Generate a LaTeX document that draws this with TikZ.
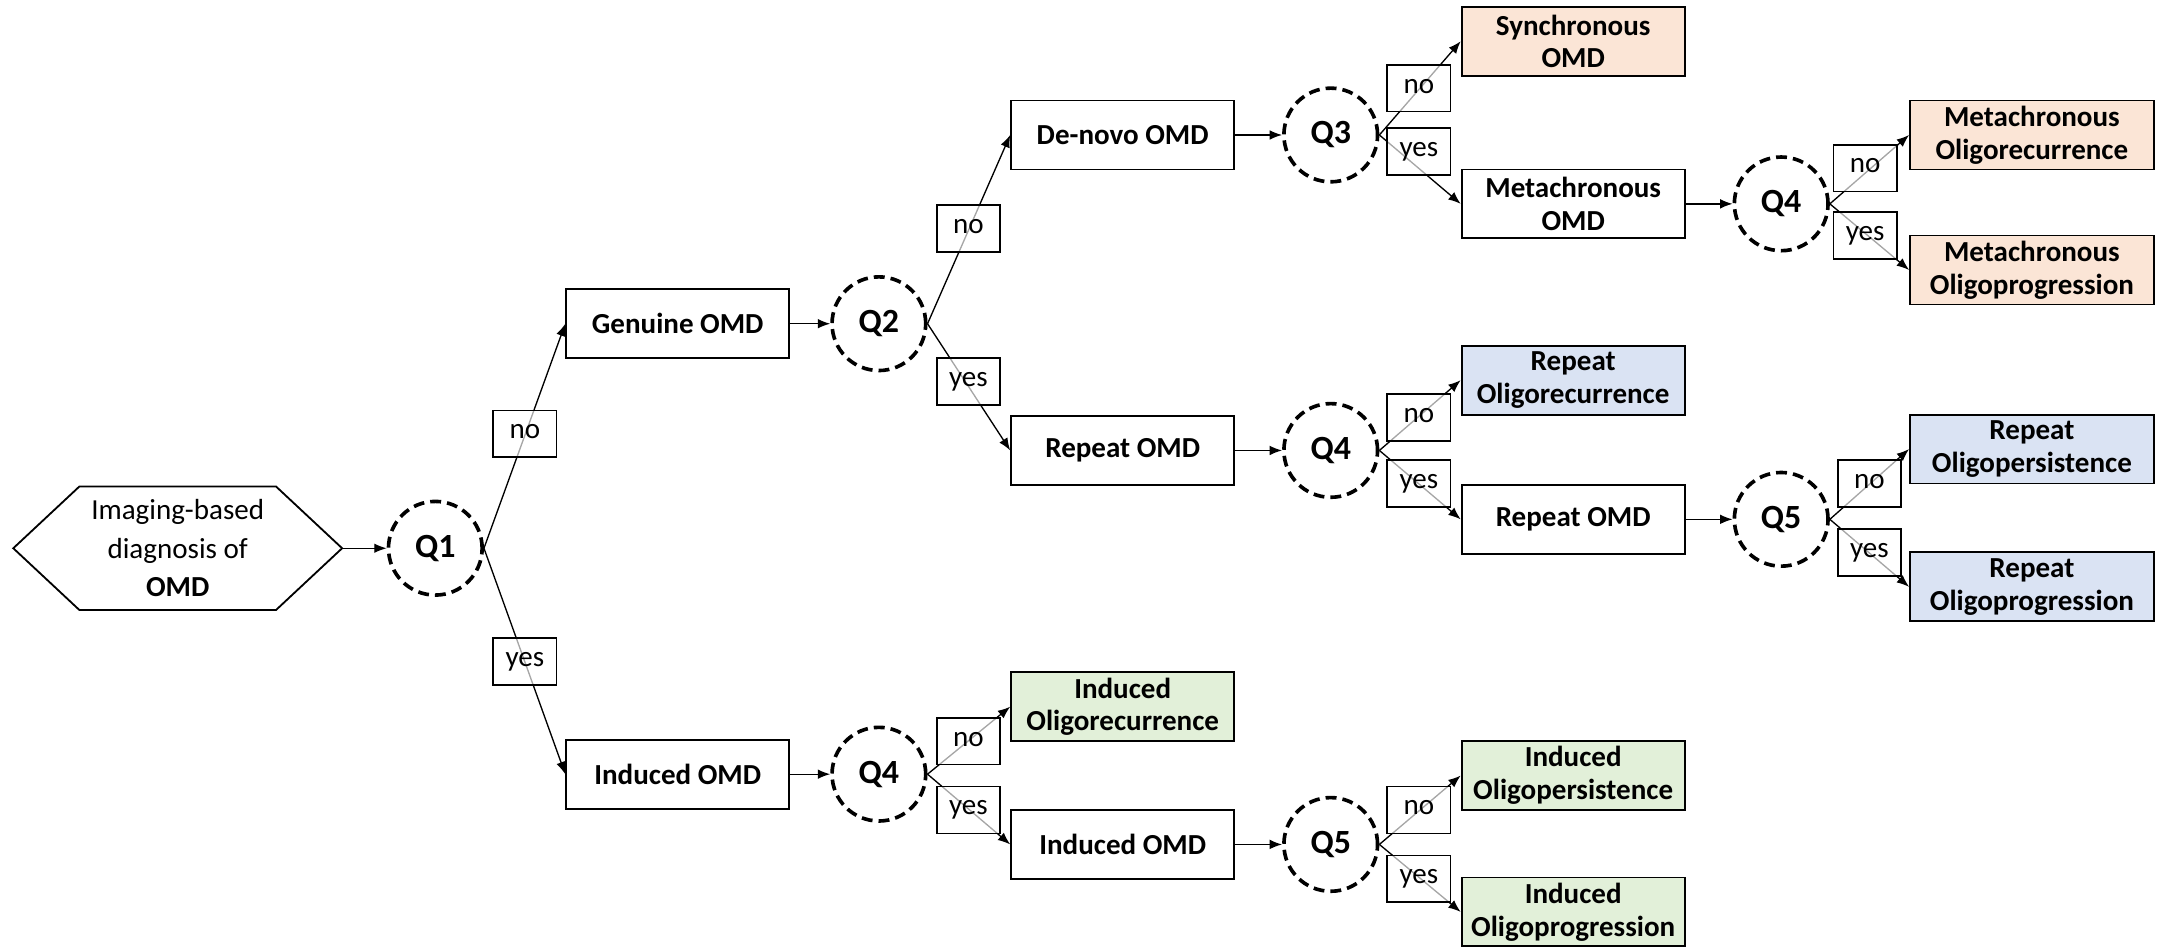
\documentclass[tikz,border=0pt]{standalone}
\usepackage{fontspec}
\setmainfont{Carlito}
\usetikzlibrary{arrows.meta,positioning,calc}
\definecolor{peach}{HTML}{FBE5D6}
\definecolor{paleblue}{HTML}{DAE3F3}
\definecolor{palegreen}{HTML}{E2F0D9}
\tikzset{
  box/.style={rectangle, draw, line width=0.75pt, align=center,
              font=\fontsize{12}{13.5}\selectfont\bfseries, inner sep=1pt,
              minimum width=3.24cm, minimum height=1.0cm, fill=white},
  wbox/.style={box, minimum width=3.54cm},
  decision/.style={circle, draw, line width=1.5pt, dash pattern=on 4.5pt off 2.5pt,
                   minimum size=1.36cm, inner sep=0pt,
                   font=\fontsize{14}{16}\selectfont\bfseries},
  ans/.style={rectangle, draw, line width=0.75pt, inner sep=0pt,
              minimum width=0.92cm, minimum height=0.68cm,
              text height=1.3ex, text depth=0.45ex,
              fill=white, fill opacity=0.65, text opacity=1,
              font=\fontsize{12}{14}\selectfont},
  arrow/.style={-{Latex[length=1.8mm, width=1.4mm]}, line width=0.55pt},
  start/.style={align=center, font=\fontsize{12}{16}\selectfont,
                minimum width=4.76cm, minimum height=1.78cm, inner sep=0pt}
}
\begin{document}
\begin{tikzpicture}
  \useasboundingbox (0,0) rectangle (31.36,13.78);
  \node[start] (hex) at (2.58,5.82) {Imaging-based\\diagnosis of\\\textbf{OMD}};
  \draw[line width=0.75pt] (hex.west) -- ($(hex.north west)+(0.96,0)$)
    -- ($(hex.north east)+(-0.96,0)$) -- (hex.east)
    -- ($(hex.south east)+(-0.96,0)$) -- ($(hex.south west)+(0.96,0)$) -- cycle;
  \node[decision] (q1) at (6.32,5.82) {Q1};
  \node[box] (gen) at (9.84,9.08) {Genuine OMD};
  \node[box] (ind) at (9.84,2.54) {Induced OMD};
  \node[decision] (q2) at (12.76,9.08) {Q2};
  \node[decision] (q4b) at (12.76,2.54) {Q4};
  \node[box] (dnv) at (16.30,11.82) {De-novo OMD};
  \node[box] (rep) at (16.30,7.24) {Repeat OMD};
  \node[box, fill=palegreen] (indrec) at (16.30,3.52) {Induced\\Oligorecurrence};
  \node[box] (ind2) at (16.30,1.52) {Induced OMD};
  \node[decision] (q3) at (19.32,11.82) {Q3};
  \node[decision] (q4m) at (19.32,7.24) {Q4};
  \node[decision] (q5b) at (19.32,1.52) {Q5};
  \node[box, fill=peach] (sync) at (22.84,13.18) {Synchronous\\OMD};
  \node[box] (meta) at (22.84,10.82) {Metachronous\\OMD};
  \node[box, fill=paleblue] (reprec) at (22.84,8.26) {Repeat\\Oligorecurrence};
  \node[box] (rep2) at (22.84,6.24) {Repeat OMD};
  \node[box, fill=palegreen] (indpers) at (22.84,2.52) {Induced\\Oligopersistence};
  \node[box, fill=palegreen] (indprog) at (22.84,0.54) {Induced\\Oligoprogression};
  \node[decision] (q4t) at (25.86,10.82) {Q4};
  \node[decision] (q5m) at (25.86,6.24) {Q5};
  \node[wbox, fill=peach] (metarec) at (29.50,11.82) {Metachronous\\Oligorecurrence};
  \node[wbox, fill=peach] (metaprog) at (29.50,9.86) {Metachronous\\Oligoprogression};
  \node[wbox, fill=paleblue] (reppers) at (29.50,7.26) {Repeat\\Oligopersistence};
  \node[wbox, fill=paleblue] (repprog) at (29.50,5.26) {Repeat\\Oligoprogression};
  \draw[arrow] (hex.east) -- (q1);
  \draw[arrow] (gen) -- (q2);
  \draw[arrow] (ind) -- (q4b);
  \draw[arrow] (dnv) -- (q3);
  \draw[arrow] (rep) -- (q4m);
  \draw[arrow] (ind2) -- (q5b);
  \draw[arrow] (meta) -- (q4t);
  \draw[arrow] (rep2) -- (q5m);
  \draw[arrow] (q1.east) -- (gen.west);
  \draw[arrow] (q1.east) -- (ind.west);
  \draw[arrow] (q2.east) -- (dnv.west);
  \draw[arrow] (q2.east) -- (rep.west);
  \draw[arrow] (q4b.east) -- (indrec.west);
  \draw[arrow] (q4b.east) -- (ind2.west);
  \draw[arrow] (q3.east) -- (sync.west);
  \draw[arrow] (q3.east) -- (meta.west);
  \draw[arrow] (q4m.east) -- (reprec.west);
  \draw[arrow] (q4m.east) -- (rep2.west);
  \draw[arrow] (q5b.east) -- (indpers.west);
  \draw[arrow] (q5b.east) -- (indprog.west);
  \draw[arrow] (q4t.east) -- (metarec.west);
  \draw[arrow] (q4t.east) -- (metaprog.west);
  \draw[arrow] (q5m.east) -- (reppers.west);
  \draw[arrow] (q5m.east) -- (repprog.west);
  \node[ans] (n1) at (7.62,7.48) {no};
  \node[ans] (y1) at (7.62,4.18) {yes};
  \node[ans] (n2) at (14.06,10.46) {no};
  \node[ans] (y2) at (14.06,8.24) {yes};
  \node[ans] (n3) at (20.60,12.50) {no};
  \node[ans] (y3) at (20.60,11.58) {yes};
  \node[ans] (n4t) at (27.08,11.34) {no};
  \node[ans] (y4t) at (27.08,10.36) {yes};
  \node[ans] (n4m) at (20.60,7.72) {no};
  \node[ans] (y4m) at (20.60,6.76) {yes};
  \node[ans] (n5m) at (27.14,6.76) {no};
  \node[ans] (y5m) at (27.14,5.76) {yes};
  \node[ans] (n4b) at (14.06,3.02) {no};
  \node[ans] (y4b) at (14.06,2.02) {yes};
  \node[ans] (n5b) at (20.60,2.02) {no};
  \node[ans] (y5b) at (20.60,1.02) {yes};
\end{tikzpicture}
\end{document}
